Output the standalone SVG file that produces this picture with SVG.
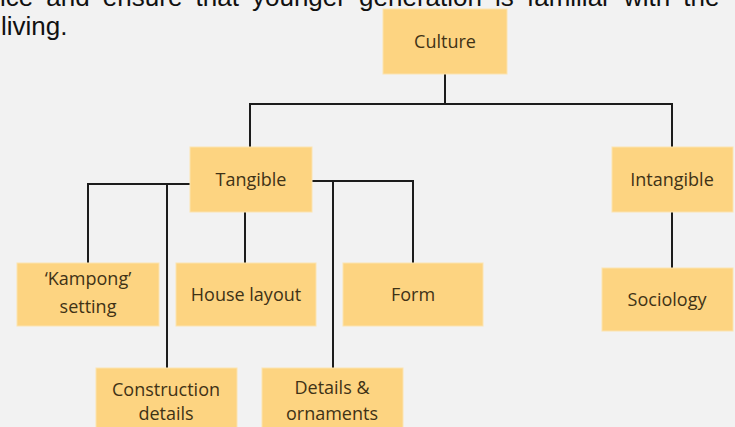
<svg xmlns="http://www.w3.org/2000/svg" width="735" height="427" viewBox="0 0 735 427">
<style>
.bg{fill:#f2f2f2}
.para{font-family:"Liberation Sans",Arial,sans-serif;font-size:26px;fill:#111;word-spacing:5.9px}
.box{fill:#fdd481;stroke:#fbe3b0;stroke-width:1}
.lbl{font-family:"Open Sans","Noto Sans",sans-serif;font-size:18px;fill:#3f3216;text-anchor:middle}
.con{fill:none;stroke:#1c1c1c;stroke-width:2}
</style>
<rect class="bg" x="0" y="0" width="735" height="427"/>
<text class="para" x="0" y="6">ice and ensure that younger generation is familiar with the</text>
<text class="para" x="1" y="35" style="word-spacing:0">living.</text>
<g id="connectors">
<polyline class="con" points="445,74 445,104"/>
<polyline class="con" points="250,147 250,104 672,104 672,147"/>
<polyline class="con" points="190,184 88,184 88,263"/>
<polyline class="con" points="167,184 167,368"/>
<polyline class="con" points="245,212 245,263"/>
<polyline class="con" points="312,181 413,181 413,263"/>
<polyline class="con" points="333,181 333,368"/>
<polyline class="con" points="672,212 672,268"/>
</g>
<g id="culture"><rect class="box" x="383" y="9" width="124" height="65"/><text class="lbl" x="445" y="48">Culture</text></g>
<g id="tangible"><rect class="box" x="190" y="147" width="122" height="65"/><text class="lbl" x="251" y="186">Tangible</text></g>
<g id="intangible"><rect class="box" x="612" y="147" width="121" height="65"/><text class="lbl" x="672" y="186">Intangible</text></g>
<g id="kampong"><rect class="box" x="17" y="263" width="142" height="63"/><text class="lbl" x="88" y="285">‘Kampong’</text><text class="lbl" x="88" y="313">setting</text></g>
<g id="house-layout"><rect class="box" x="176" y="263" width="140" height="63"/><text class="lbl" x="246" y="301">House layout</text></g>
<g id="form"><rect class="box" x="343" y="263" width="140" height="63"/><text class="lbl" x="413" y="301">Form</text></g>
<g id="sociology"><rect class="box" x="602" y="268" width="131" height="63"/><text class="lbl" x="667" y="306">Sociology</text></g>
<g id="construction-details"><rect class="box" x="96" y="368" width="141" height="72"/><text class="lbl" x="166" y="396">Construction</text><text class="lbl" x="166" y="420">details</text></g>
<g id="details-ornaments"><rect class="box" x="262" y="368" width="141" height="72"/><text class="lbl" x="332" y="394">Details &amp;</text><text class="lbl" x="332" y="420">ornaments</text></g>
</svg>
